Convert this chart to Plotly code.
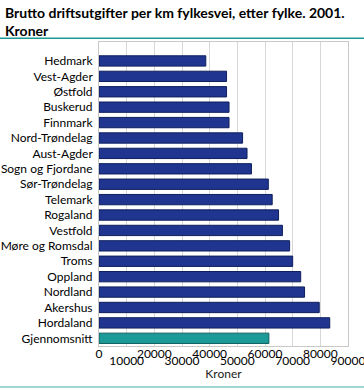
import plotly.graph_objects as go

counties = ["Hedmark", "Vest-Agder", "Østfold", "Buskerud", "Finnmark", "Nord-Trøndelag",
            "Aust-Agder", "Sogn og Fjordane", "Sør-Trøndelag", "Telemark", "Rogaland",
            "Vestfold", "Møre og Romsdal", "Troms", "Oppland", "Nordland", "Akershus",
            "Hordaland", "Gjennomsnitt"]
values = [38600, 46100, 46100, 47000, 47000, 51900, 53500, 55100, 61200, 62600, 64900,
          66300, 68900, 70000, 72900, 74300, 79600, 83400, 61400]
tick_vals = [0, 10000, 20000, 30000, 40000, 50000, 60000, 70000, 80000, 90000]
even_vals = tick_vals[0::2]
odd_vals = tick_vals[1::2]
odd_text = [str(v) for v in odd_vals]

navy = "#1f3590"
teal = "#1b9a98"
colors = [teal if c == "Gjennomsnitt" else navy for c in counties]
lines = ["#0f1f5c" if c != "Gjennomsnitt" else "#0f5f5e" for c in counties]

FONT = "Lato, Open Sans, sans-serif"
W, H = 364, 390
L, R, T, B = 99, 16, 42.3, 44.3
pw, ph = W - L - R, H - T - B

fig = go.Figure()
fig.add_trace(go.Bar(
    y=counties, x=values, orientation="h",
    marker=dict(color=colors, line=dict(color=lines, width=1)),
    hoverinfo="x+y",
))
# invisible helper trace so the second (odd tick) axis is drawn
fig.add_trace(go.Scatter(x=odd_vals, y=[counties[0]] * len(odd_vals), xaxis="x2",
                         mode="markers", marker=dict(opacity=0), hoverinfo="skip"))

axis_common = dict(range=[0, 90000], tickangle=0, automargin=False, ticks="",
                   zeroline=False, fixedrange=True, ticklabeloverflow="allow",
                   tickfont=dict(size=12, color="#000"))

fig.update_layout(
    width=W, height=H,
    margin=dict(l=L, r=R, t=T, b=B, autoexpand=False),
    paper_bgcolor="white", plot_bgcolor="white",
    bargap=0.33,
    showlegend=False,
    font=dict(family=FONT, size=12, color="#000"),
    xaxis=dict(**axis_common, tickvals=tick_vals,
               ticktext=[str(v) if v in even_vals else "" for v in tick_vals],
               ticklabelstandoff=-3,
               showgrid=True, gridcolor="#d8d8d8", gridwidth=1,
               showline=True, linecolor="#c8c8c8", mirror=True,
               title=dict(text="Kroner", standoff=9, font=dict(size=12, color="#222"))),
    xaxis2=dict(**axis_common, overlaying="x", side="bottom", matches="x",
                tickvals=odd_vals, ticktext=odd_text, ticklabelstandoff=6,
                showgrid=False, showline=False),
    yaxis=dict(autorange="reversed", showgrid=False, automargin=False,
               showline=True, linecolor="#c8c8c8", mirror=True,
               ticks="", ticksuffix=" ", fixedrange=True),
    annotations=[dict(
        text="<b>Brutto driftsutgifter per km fylkesvei, etter fylke. 2001.<br>Kroner</b>",
        xref="paper", yref="paper", x=-(L - 3) / pw, y=(H - B - 2) / ph,
        xanchor="left", yanchor="top", align="left", showarrow=False,
        font=dict(family=FONT, size=14, color="#000"))],
    shapes=[
        dict(type="line", xref="paper", yref="paper",
             x0=-L / pw, x1=(W - L) / pw, y0=(H - B - 38.5) / ph, y1=(H - B - 38.5) / ph,
             line=dict(color=teal, width=1.5)),
        dict(type="line", xref="paper", yref="paper",
             x0=-L / pw, x1=(W - L) / pw, y0=(H - B - 386.7) / ph, y1=(H - B - 386.7) / ph,
             line=dict(color="#7fc8c6", width=1.5)),
    ],
)

fig.write_html("out.html", config={"displayModeBar": False},
               post_script="document.body.style.margin='0';document.body.style.overflow='hidden';")
